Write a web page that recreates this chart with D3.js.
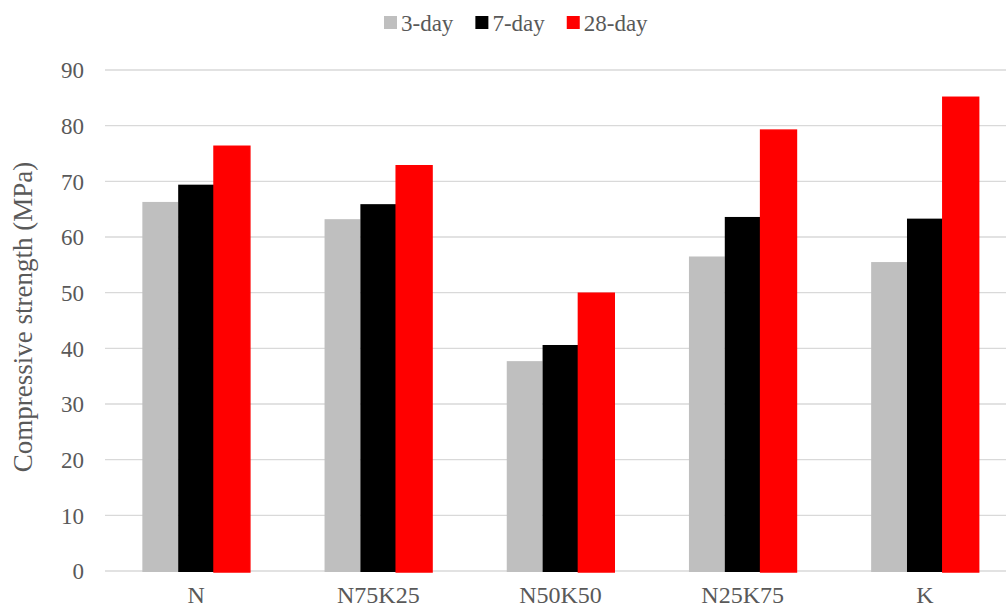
<!DOCTYPE html>
<html>
<head>
<meta charset="utf-8">
<script src="https://cdn.jsdelivr.net/npm/d3@7"></script>
<style>
  body { margin: 0; background: #fff; }
  svg, svg text { font-family: "Liberation Serif", "Times New Roman", Tinos, Times, "DejaVu Serif", serif; }
</style>
</head>
<body>
<div id="chart"></div>
<script>
// Data
const categories = ["N", "N75K25", "N50K50", "N25K75", "K"];
const seriesNames = ["3-day", "7-day", "28-day"];
const day3 = [66.3, 63.2, 37.7, 56.5, 55.5];
const day7 = [69.4, 65.9, 40.6, 63.6, 63.3];
const day28 = [76.3, 72.8, 49.9, 79.2, 85.1];
const yTicks = [0, 10, 20, 30, 40, 50, 60, 70, 80, 90];
const colors = ["#bfbfbf", "#000000", "#ff0000"];

const seriesValues = [day3, day7, day28];
const table = categories.map((c, i) => ({
  category: c,
  values: seriesNames.map((s, j) => ({ series: s, value: seriesValues[j][i], k: j }))
}));

const width = 1006, height = 609;
const textColor = "#595959";

const svg = d3.select("#chart").append("svg")
  .attr("width", width)
  .attr("height", height);

// plot spans a bit past the right edge, like the cropped original
const x = d3.scaleBand()
  .domain(categories)
  .range([105, 1016])
  .paddingInner(0.41)
  .paddingOuter(0.205);

const xSub = d3.scaleBand()
  .domain(seriesNames)
  .range([0, x.bandwidth()]);

const y = d3.scaleLinear()
  .domain([0, 90])
  .range([571, 70]);

// gridlines
svg.append("g")
  .selectAll("line")
  .data(yTicks)
  .join("line")
  .attr("x1", 105)
  .attr("x2", width)
  .attr("y1", d => y(d))
  .attr("y2", d => y(d))
  .attr("stroke", "#d9d9d9")
  .attr("stroke-width", 1.3);

// y tick labels
const yAxis = d3.axisLeft(y).tickValues(yTicks).tickSize(0).tickPadding(0);
svg.append("g")
  .attr("transform", "translate(84,0)")
  .call(yAxis)
  .attr("font-family", null)
  .call(g => g.select(".domain").remove())
  .call(g => g.selectAll("text")
    .attr("font-size", "23px")
    .attr("fill", textColor)
    .attr("dy", "0.34em"));

// bars
svg.append("g")
  .selectAll("g")
  .data(table)
  .join("g")
  .attr("transform", d => "translate(" + x(d.category) + ",0)")
  .selectAll("rect")
  .data(d => d.values)
  .join("rect")
  .attr("x", d => xSub(d.series))
  .attr("y", d => y(d.value))
  .attr("width", xSub.bandwidth())
  .attr("height", d => y(0) - y(d.value) + 1)
  .attr("fill", d => colors[d.k])
  .attr("stroke", d => d.k === 2 ? colors[2] : "none")
  .attr("stroke-width", 1.5);

// x axis labels
const xAxis = d3.axisBottom(x).tickSize(0).tickPadding(0);
svg.append("g")
  .attr("transform", "translate(0,603)")
  .call(xAxis)
  .attr("font-family", null)
  .call(g => g.select(".domain").remove())
  .call(g => g.selectAll("text")
    .attr("font-size", "24px")
    .attr("fill", textColor)
    .attr("dy", 0));

// y axis title
svg.append("text")
  .attr("transform", "translate(32," + 317 + ") rotate(-90)")
  .attr("text-anchor", "middle")
  .attr("font-size", "27px")
  .attr("fill", textColor)
  .text("Compressive strength (MPa)");

// legend
const legend = svg.append("g").attr("transform", "translate(384,0)");
let lx = 0;
seriesNames.forEach((s, i) => {
  const item = legend.append("g").attr("transform", "translate(" + lx + ",0)");
  item.append("rect")
    .attr("x", 0).attr("y", 16)
    .attr("width", 13).attr("height", 13)
    .attr("fill", colors[i]);
  const t = item.append("text")
    .attr("x", 17).attr("y", 31)
    .attr("font-size", "23px")
    .attr("fill", textColor)
    .text(s);
  lx += 17 + t.node().getComputedTextLength() + 22;
});
</script>
</body>
</html>
